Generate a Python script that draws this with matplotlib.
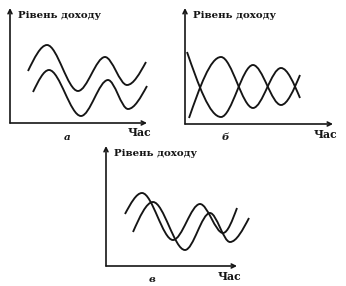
import matplotlib
matplotlib.use('Agg')
from matplotlib import pyplot as plt
from matplotlib.path import Path
from matplotlib.patches import PathPatch

# key points of each curve (start, extrema..., end)
# panel a: two parallel waves
a_top_t = [18, 37, 68, 95, 117, 136]
a_top_y = [52, 78, 32, 66, 38, 61]
a_low_t = [23, 39, 71, 98, 118, 137]
a_low_y = [31, 53, 7, 43, 14, 37]

# panel b: mirrored waves
b_one_t = [2, 36, 68, 96, 115]
b_one_y = [72, 7, 59, 19, 49]
b_two_t = [4, 36, 68, 96, 115]
b_two_y = [6, 67, 16, 56, 26]

# panel v: shifted waves
c_one_t = [19, 36, 67, 94, 117, 131]
c_one_y = [52, 73, 26, 62, 33, 58]
c_two_t = [27, 47, 79, 104, 124, 143]
c_two_y = [34, 64, 16, 53, 24, 48]

y_title = 'Рівень доходу'
x_title = 'Час'
letters = ['а', 'б', 'в']

W, H = 346, 286
fig = plt.figure(figsize=(W / 100, H / 100), dpi=100)
fig.patch.set_facecolor('white')

ink = '#151515'
serif = ['DejaVu Serif']


def wave(ax, ts, ys):
    # smooth curve through the key points, flat at the extrema
    verts = [(ts[0], ys[0])]
    codes = [Path.MOVETO]
    n = len(ts)
    for i in range(n - 1):
        x0, y0, x1, y1 = ts[i], ys[i], ts[i + 1], ys[i + 1]
        dx, dy = x1 - x0, y1 - y0
        c1y = y0 if i > 0 else y0 + 0.5 * dy
        c2y = y1 if i + 1 < n - 1 else y1 - 0.5 * dy
        verts += [(x0 + dx / 3, c1y), (x0 + 2 * dx / 3, c2y), (x1, y1)]
        codes += [Path.CURVE4] * 3
    ax.add_patch(PathPatch(Path(verts, codes), fill=False, lw=1.35,
                           edgecolor=ink, clip_on=False))


def panel(ox, oy, w, h, letter, lx):
    # ox, oy: origin in pixels from top-left; w, h: axis lengths
    ax = fig.add_axes([ox / W, (H - oy) / H, w / W, h / H])
    ax.set_xlim(0, w)
    ax.set_ylim(0, h)
    ax.axis('off')
    arrow = dict(arrowstyle='->', lw=1.2, color=ink, shrinkA=0, shrinkB=0,
                 mutation_scale=7)
    ax.annotate('', xy=(1, 0), xytext=(0, 0), xycoords='axes fraction',
                arrowprops=arrow)
    ax.annotate('', xy=(0, 1), xytext=(0, 0), xycoords='axes fraction',
                arrowprops=arrow)
    ax.text(8, h - 7, y_title, ha='left', va='center', fontsize=7.4,
            fontweight='bold', family=serif, color=ink)
    ax.text(w - 8, -10, x_title, ha='center', va='center', fontsize=7.8,
            fontweight='bold', family=serif, color=ink)
    ax.text(lx, -14, letter, ha='center', va='center', fontsize=7.5,
            fontweight='bold', fontstyle='italic', family=serif, color=ink)
    return ax


ax_a = panel(10, 123, 137, 115, letters[0], 57)
wave(ax_a, a_top_t, a_top_y)
wave(ax_a, a_low_t, a_low_y)

ax_b = panel(185, 124, 148, 116, letters[1], 40)
wave(ax_b, b_one_t, b_one_y)
wave(ax_b, b_two_t, b_two_y)

ax_c = panel(106, 266, 131, 120, letters[2], 46)
wave(ax_c, c_one_t, c_one_y)
wave(ax_c, c_two_t, c_two_y)

fig.savefig('out.png', dpi=100, facecolor='white')
